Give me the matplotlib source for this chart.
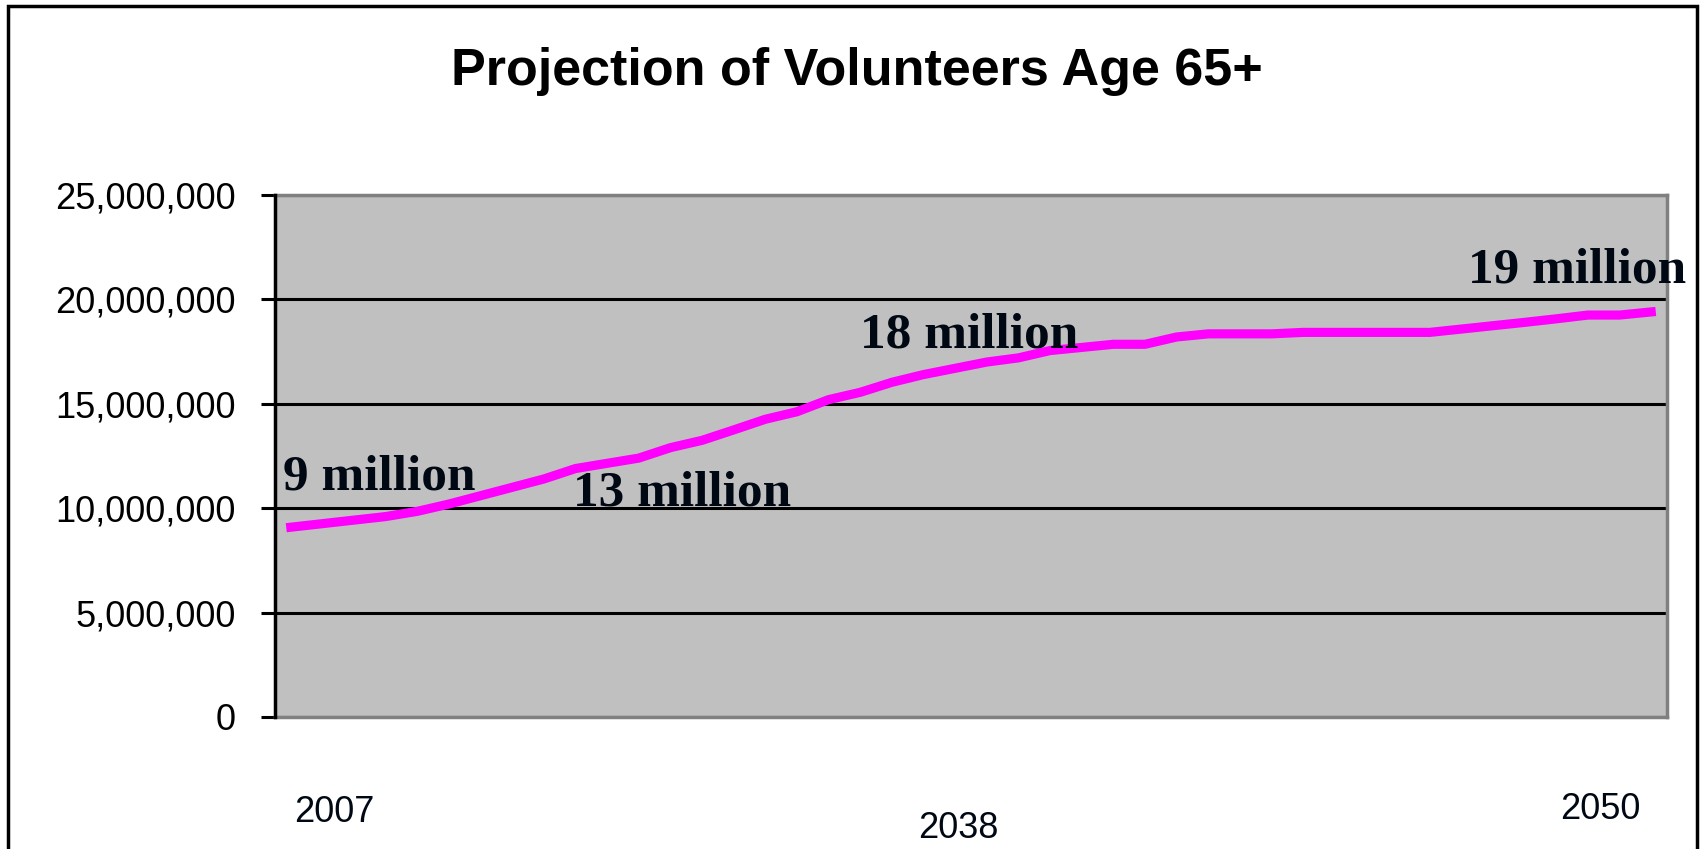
import matplotlib.pyplot as plt
from matplotlib.patches import Rectangle
from matplotlib.ticker import FuncFormatter

# volunteers age 65+ (millions)
years = list(range(2007, 2051))
volunteers = [9.09, 9.26, 9.43, 9.60, 9.85, 10.2, 10.6, 11.0, 11.4, 11.9,
              12.15, 12.4, 12.9, 13.25, 13.75, 14.26, 14.62, 15.2, 15.55, 16.03,
              16.4, 16.7, 17.0, 17.2, 17.55, 17.7, 17.85, 17.85, 18.2, 18.35,
              18.35, 18.35, 18.42, 18.42, 18.42, 18.42, 18.42, 18.58, 18.74, 18.9,
              19.07, 19.25, 19.25, 19.4]
volunteers = [v * 1e6 for v in volunteers]

callouts = ["9 million", "13 million", "18 million", "19 million"]
callout_pos = [(283, 490), (573, 506), (860, 347), (1468, 283)]   # pixels
year_labels = ["2007", "2038", "2050"]
year_pos = [(334, 822), (958, 838), (1600, 819)]                   # pixels

W, H = 1703, 849
fig = plt.figure(figsize=(W / 100, H / 100), dpi=100)
ax = fig.add_axes([275 / W, 1 - 717 / H, (1667 - 275) / W, (717 - 195) / H])
ax.set_facecolor('#c0c0c0')

x = list(range(len(years)))
ax.plot(x, volunteers, color='#ff00ff', lw=6.6, solid_joinstyle='miter', zorder=3)

ax.set_xlim(-0.5, len(years) - 0.5)
ax.set_ylim(0, 25e6)
ax.set_yticks(range(0, 25000001, 5000000))
ax.yaxis.set_major_formatter(FuncFormatter(lambda v, p: f"{int(v):,}"))
ax.grid(axis='y', color='black', lw=2.2, zorder=1)
ax.set_axisbelow(True)
ax.set_xticks([])
ax.tick_params(axis='y', length=10, width=2.2, color='black', pad=18,
               labelsize=26, labelfontfamily='Liberation Sans')

for side in ['top', 'right', 'bottom']:
    ax.spines[side].set_color('#808080')
    ax.spines[side].set_linewidth(2.5)
ax.spines['left'].set_color('black')
ax.spines['left'].set_linewidth(2.5)
ax.spines['left'].set_zorder(4)

for txt, (px, py) in zip(callouts, callout_pos):
    fig.text(px / W, 1 - py / H, txt, fontsize=37, family='Liberation Serif',
             weight='bold', color='#000814', ha='left', va='baseline')

for txt, (px, py) in zip(year_labels, year_pos):
    fig.text(px / W, 1 - py / H, txt, fontsize=26, family='Liberation Sans',
             color='#000814', ha='center', va='baseline')

fig.text(857 / W, 1 - 85 / H, "Projection of Volunteers Age 65+", fontsize=37.5,
         family='Liberation Sans', weight='bold', ha='center', va='baseline')

# outer chart border (bottom edge runs off the image)
fig.patches.append(Rectangle((8 / W, -0.05), (1697 - 8) / W, 1.05 - 6 / H,
                             transform=fig.transFigure, fill=False,
                             edgecolor='black', lw=2.5))

fig.savefig('out.png', dpi=100)
